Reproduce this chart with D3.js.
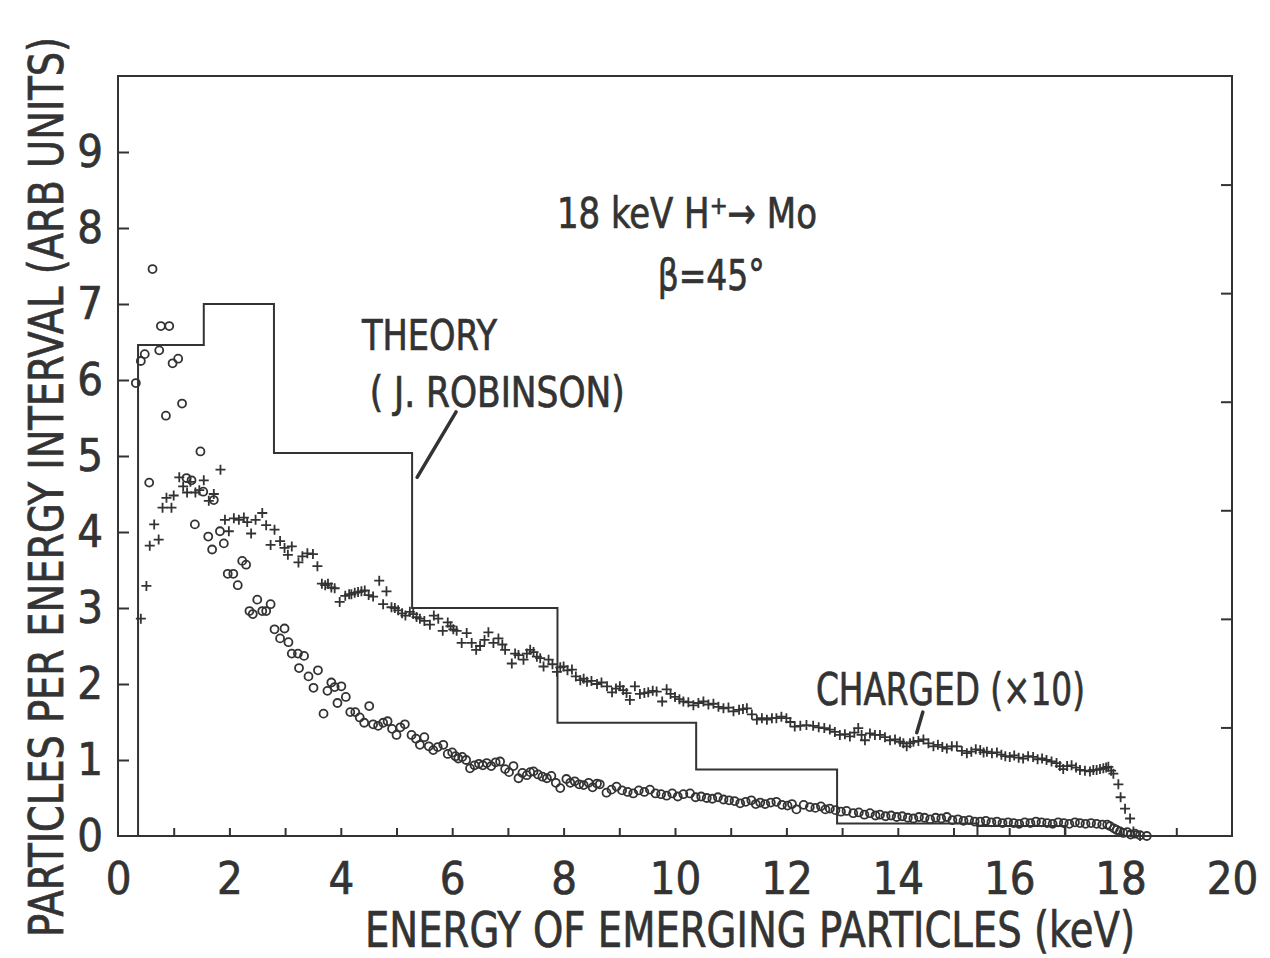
<!DOCTYPE html>
<html>
<head>
<meta charset="utf-8">
<script src="https://cdn.jsdelivr.net/npm/d3@7"></script>
<style>
  body { margin: 0; background: #fff; }
  svg { display: block; }
  text { fill: #333; stroke: #333; stroke-width: 0.7px; }
</style>
</head>
<body>
<script>
// energy spectrum of particles emerging from Mo, 18 keV H+ , beta = 45 deg
const width = 1270,
  height = 958;

// theory histogram (J. Robinson): bin edges in keV and heights
const theoryEdges = [0.36, 1.54, 2.8, 5.28, 7.89, 10.38, 12.91, 15.43, 17.0];
const theoryValues = [6.46, 7.0, 5.04, 3.0, 1.49, 0.875, 0.165, 0.13];

// open circles : [energy keV, particles per interval]
const neutral = [
  [0.32, 5.96], [0.41, 6.25], [0.48, 6.34], [0.56, 4.65], [0.62, 7.46], [0.74, 6.39],
  [0.77, 6.71], [0.86, 5.53], [0.92, 6.71], [0.98, 6.22], [1.08, 6.28], [1.15, 5.69],
  [1.23, 4.71], [1.32, 4.68], [1.38, 4.10], [1.48, 5.06], [1.53, 4.53], [1.62, 3.94],
  [1.69, 3.77], [1.72, 4.42], [1.83, 4.01], [1.90, 3.85], [1.97, 3.45], [2.07, 3.45],
  [2.15, 3.30], [2.23, 3.62], [2.30, 3.57], [2.36, 2.96], [2.42, 2.92], [2.50, 3.11],
  [2.59, 2.96], [2.66, 2.96], [2.74, 3.05], [2.81, 2.72], [2.91, 2.60], [2.99, 2.73],
  [3.06, 2.55], [3.12, 2.40], [3.23, 2.40], [3.25, 2.21], [3.34, 2.37], [3.42, 2.10],
  [3.51, 1.95], [3.59, 2.18], [3.69, 1.61], [3.76, 1.91], [3.83, 2.02], [3.89, 1.96],
  [3.94, 1.75], [4.01, 1.97], [4.09, 1.83], [4.17, 1.63], [4.26, 1.63], [4.34, 1.56],
  [4.42, 1.49], [4.51, 1.71], [4.58, 1.47], [4.67, 1.45], [4.76, 1.49], [4.84, 1.51],
  [4.92, 1.41], [5.00, 1.33], [5.07, 1.43], [5.15, 1.47], [5.27, 1.33], [5.35, 1.28],
  [5.42, 1.20], [5.50, 1.30], [5.58, 1.18], [5.66, 1.13], [5.74, 1.17], [5.84, 1.20],
  [5.92, 1.08], [6.00, 1.10], [6.06, 1.05], [6.11, 1.02], [6.18, 1.04], [6.25, 1.00],
  [6.32, 0.89], [6.40, 0.93], [6.48, 0.95], [6.55, 0.93], [6.62, 0.96], [6.70, 0.92],
  [6.78, 0.97], [6.86, 0.98], [6.95, 0.88], [7.02, 0.84], [7.10, 0.92], [7.19, 0.76],
  [7.26, 0.83], [7.34, 0.80], [7.40, 0.84], [7.46, 0.85], [7.54, 0.81], [7.62, 0.78],
  [7.70, 0.76], [7.78, 0.79], [7.86, 0.70], [7.94, 0.63], [8.05, 0.75], [8.12, 0.70],
  [8.20, 0.72], [8.28, 0.68], [8.36, 0.67], [8.45, 0.70], [8.52, 0.64], [8.60, 0.69],
  [8.65, 0.68], [8.77, 0.57], [8.86, 0.61], [8.95, 0.65], [9.05, 0.60], [9.15, 0.58],
  [9.25, 0.56], [9.35, 0.60], [9.45, 0.58], [9.55, 0.61], [9.65, 0.56], [9.75, 0.55],
  [9.85, 0.53], [9.95, 0.56], [10.05, 0.52], [10.15, 0.55], [10.27, 0.56], [10.37, 0.51],
  [10.47, 0.52], [10.57, 0.50], [10.67, 0.49], [10.77, 0.51], [10.87, 0.48], [10.97, 0.47],
  [11.07, 0.46], [11.17, 0.43], [11.27, 0.45], [11.37, 0.47], [11.45, 0.42], [11.53, 0.44],
  [11.62, 0.42], [11.72, 0.44], [11.82, 0.45], [11.92, 0.41], [12.02, 0.40], [12.10, 0.42],
  [12.18, 0.35], [12.31, 0.41], [12.42, 0.38], [12.52, 0.37], [12.62, 0.39], [12.70, 0.35],
  [12.78, 0.36], [12.88, 0.34], [12.98, 0.32], [13.08, 0.33], [13.20, 0.30], [13.30, 0.31],
  [13.40, 0.28], [13.50, 0.30], [13.60, 0.27], [13.68, 0.28], [13.78, 0.26], [13.88, 0.27],
  [13.98, 0.25], [14.08, 0.26], [14.18, 0.24], [14.28, 0.23], [14.38, 0.25], [14.48, 0.24],
  [14.58, 0.22], [14.68, 0.24], [14.78, 0.23], [14.88, 0.25], [14.98, 0.21], [15.08, 0.22],
  [15.18, 0.20], [15.28, 0.21], [15.38, 0.19], [15.48, 0.19], [15.58, 0.20], [15.68, 0.18],
  [15.78, 0.19], [15.88, 0.17], [15.98, 0.18], [16.08, 0.17], [16.18, 0.16], [16.28, 0.18],
  [16.38, 0.17], [16.48, 0.19], [16.58, 0.18], [16.68, 0.17], [16.78, 0.16], [16.88, 0.18],
  [16.98, 0.17], [17.08, 0.16], [17.18, 0.18], [17.27, 0.17], [17.37, 0.16], [17.47, 0.17],
  [17.57, 0.16], [17.67, 0.15], [17.76, 0.15], [17.81, 0.13], [17.88, 0.10], [17.93, 0.08],
  [17.99, 0.06], [18.05, 0.04], [18.12, 0.05], [18.18, 0.02], [18.26, 0.03], [18.35, 0.01],
  [18.47, 0.0]
];

// crosses : charged particles (x10)
const charged = [
  [0.41, 2.86], [0.51, 3.29], [0.57, 3.82], [0.65, 4.10], [0.73, 3.90], [0.80, 4.32],
  [0.87, 4.45], [0.96, 4.32], [1.00, 4.48], [1.10, 4.72], [1.17, 4.60], [1.24, 4.52],
  [1.30, 4.66], [1.39, 4.52], [1.46, 4.55], [1.54, 4.68], [1.63, 4.41], [1.72, 4.50],
  [1.84, 4.82], [1.92, 4.16], [1.99, 4.01], [2.08, 4.18], [2.17, 4.16], [2.26, 4.19],
  [2.32, 4.13], [2.39, 3.98], [2.47, 4.16], [2.59, 4.25], [2.66, 4.09], [2.74, 3.83],
  [2.81, 4.03], [2.91, 3.88], [2.99, 3.79], [3.05, 3.70], [3.12, 3.81], [3.24, 3.60],
  [3.31, 3.68], [3.40, 3.72], [3.50, 3.71], [3.58, 3.55], [3.66, 3.32], [3.72, 3.30],
  [3.77, 3.32], [3.83, 3.27], [3.89, 3.26], [3.98, 3.08], [4.08, 3.16], [4.15, 3.18],
  [4.19, 3.18], [4.25, 3.20], [4.31, 3.21], [4.37, 3.22], [4.43, 3.23], [4.50, 3.17],
  [4.58, 3.15], [4.69, 3.36], [4.76, 3.05], [4.82, 3.22], [4.91, 3.01], [4.97, 3.00],
  [5.03, 2.97], [5.10, 2.93], [5.16, 2.90], [5.24, 2.95], [5.30, 2.92], [5.36, 2.88],
  [5.42, 2.86], [5.50, 2.83], [5.60, 2.78], [5.67, 2.90], [5.75, 2.86], [5.83, 2.70],
  [5.92, 2.81], [5.97, 2.76], [6.02, 2.72], [6.08, 2.70], [6.17, 2.54], [6.26, 2.67],
  [6.35, 2.54], [6.43, 2.45], [6.50, 2.50], [6.58, 2.58], [6.65, 2.68], [6.74, 2.54],
  [6.83, 2.60], [6.90, 2.52], [6.95, 2.45], [7.07, 2.27], [7.13, 2.40], [7.19, 2.38],
  [7.28, 2.32], [7.34, 2.40], [7.40, 2.45], [7.46, 2.42], [7.52, 2.36], [7.58, 2.34],
  [7.64, 2.23], [7.73, 2.32], [7.80, 2.26], [7.88, 2.16], [7.94, 2.22], [8.00, 2.23],
  [8.07, 2.18], [8.15, 2.19], [8.22, 2.10], [8.30, 2.05], [8.36, 2.07], [8.42, 2.03],
  [8.50, 2.04], [8.60, 2.00], [8.68, 2.02], [8.78, 1.97], [8.87, 1.89], [8.94, 1.94],
  [9.01, 1.97], [9.07, 1.92], [9.13, 1.88], [9.19, 1.79], [9.28, 1.97], [9.37, 1.87],
  [9.45, 1.88], [9.52, 1.89], [9.60, 1.91], [9.67, 1.90], [9.77, 1.77], [9.85, 1.93],
  [9.92, 1.87], [10.00, 1.83], [10.08, 1.80], [10.15, 1.77], [10.24, 1.76], [10.33, 1.72],
  [10.42, 1.75], [10.51, 1.77], [10.60, 1.73], [10.69, 1.74], [10.78, 1.70], [10.87, 1.68],
  [10.96, 1.69], [11.05, 1.64], [11.15, 1.66], [11.22, 1.67], [11.29, 1.68], [11.38, 1.60],
  [11.47, 1.53], [11.56, 1.55], [11.65, 1.53], [11.74, 1.55], [11.82, 1.55], [11.91, 1.57],
  [12.00, 1.55], [12.07, 1.50], [12.15, 1.44], [12.25, 1.45], [12.36, 1.46], [12.48, 1.45],
  [12.58, 1.43], [12.68, 1.42], [12.78, 1.40], [12.87, 1.37], [12.96, 1.33], [13.05, 1.34],
  [13.14, 1.31], [13.22, 1.36], [13.29, 1.42], [13.35, 1.33], [13.41, 1.26], [13.50, 1.35],
  [13.59, 1.33], [13.68, 1.33], [13.77, 1.30], [13.86, 1.26], [13.95, 1.27], [14.04, 1.24],
  [14.10, 1.22], [14.16, 1.18], [14.22, 1.22], [14.28, 1.24], [14.37, 1.25], [14.46, 1.27],
  [14.55, 1.22], [14.64, 1.18], [14.72, 1.20], [14.80, 1.17], [14.88, 1.15], [14.97, 1.18],
  [15.06, 1.18], [15.15, 1.12], [15.24, 1.09], [15.32, 1.11], [15.40, 1.14], [15.48, 1.13],
  [15.54, 1.10], [15.60, 1.11], [15.69, 1.09], [15.78, 1.10], [15.86, 1.07], [15.93, 1.05],
  [16.01, 1.04], [16.09, 1.06], [16.17, 1.03], [16.25, 1.02], [16.34, 1.05], [16.43, 1.04],
  [16.51, 1.01], [16.59, 1.02], [16.67, 1.00], [16.76, 0.98], [16.85, 0.96], [16.91, 0.92],
  [16.97, 0.88], [17.04, 0.92], [17.12, 0.93], [17.20, 0.90], [17.27, 0.87], [17.36, 0.86],
  [17.45, 0.85], [17.51, 0.87], [17.57, 0.87], [17.63, 0.88], [17.69, 0.89], [17.74, 0.90],
  [17.78, 0.91], [17.83, 0.86], [17.87, 0.82], [17.96, 0.68], [18.00, 0.51], [18.08, 0.36],
  [18.17, 0.23], [18.23, 0.06], [18.35, 0.0]
];

// tick values
const xLabelTicks = [0, 2, 4, 6, 8, 10, 12, 14, 16, 18, 20];
const xMinorTicks = d3.range(1, 20);
const yLabelTicks = [0, 1, 2, 3, 4, 5, 6, 7, 8, 9];
const yMinorTicks = [1, 2, 3, 4, 5, 6, 7, 8, 9];
const rightTicks = [1, 2, 3, 4, 5, 6];

const font = '"Liberation Sans Narrow", "DejaVu Sans Condensed", "Arial Narrow", sans-serif';
const ink = "#333";

const x = d3.scaleLinear().domain([0, 20]).range([118, 1232]);
const y = d3.scaleLinear().domain([0, 10]).range([836, 76]);
// right hand frame carries an unlabelled scale of its own
const y2 = d3.scaleLinear().domain([0, 7]).range([836, 76]);

const svg = d3
  .select("body")
  .append("svg")
  .attr("width", width)
  .attr("height", height)
  .style("font-family", font);

svg.append("rect").attr("width", width).attr("height", height).attr("fill", "#fff");

// frame
svg
  .append("rect")
  .attr("x", x(0))
  .attr("y", y(10))
  .attr("width", x(20) - x(0))
  .attr("height", y(0) - y(10))
  .attr("fill", "none")
  .attr("stroke", ink)
  .attr("stroke-width", 2);

// inward tick marks
function styleTicks(g) {
  g.select(".domain").remove();
  g.selectAll(".tick line").attr("stroke", ink).attr("stroke-width", 2);
}
svg
  .append("g")
  .attr("transform", `translate(0,${y(0)})`)
  .call(d3.axisBottom(x).tickValues(xMinorTicks).tickSize(-8).tickFormat(""))
  .call(styleTicks);
svg
  .append("g")
  .attr("transform", `translate(${x(0)},0)`)
  .call(d3.axisLeft(y).tickValues(yMinorTicks).tickSize(-11).tickFormat(""))
  .call(styleTicks);
svg
  .append("g")
  .attr("transform", `translate(${x(20)},0)`)
  .call(d3.axisRight(y2).tickValues(rightTicks).tickSize(-11).tickFormat(""))
  .call(styleTicks);

// tick labels
function styleLabels(g) {
  g.select(".domain").remove();
  g.selectAll(".tick line").remove();
  g.selectAll(".tick text").attr("fill", ink).style("font-size", "45px").style("font-family", font);
}
svg
  .append("g")
  .attr("transform", `translate(0,${y(0)})`)
  .call(d3.axisBottom(x).tickValues(xLabelTicks).tickSize(0).tickPadding(26).tickFormat(d3.format("d")))
  .call(styleLabels);
svg
  .append("g")
  .attr("transform", `translate(${x(0)},0)`)
  .call(d3.axisLeft(y).tickValues(yLabelTicks).tickSize(0).tickPadding(15).tickFormat(d3.format("d")))
  .call(styleLabels);

// axis titles
svg
  .append("text")
  .attr("x", 750)
  .attr("y", 947)
  .attr("text-anchor", "middle")
  .attr("textLength", 770)
  .attr("lengthAdjust", "spacingAndGlyphs")
  .style("font-size", "50px")
  .text("ENERGY OF EMERGING PARTICLES (keV)");

svg
  .append("text")
  .attr("transform", "translate(63,487) rotate(-90)")
  .attr("text-anchor", "middle")
  .attr("textLength", 900)
  .attr("lengthAdjust", "spacingAndGlyphs")
  .style("font-size", "48px")
  .text("PARTICLES PER ENERGY INTERVAL (ARB UNITS)");

// theory histogram as a step outline
const steps = [];
theoryValues.forEach((v, i) => {
  steps.push([theoryEdges[i], v]);
  steps.push([theoryEdges[i + 1], v]);
});
steps.unshift([theoryEdges[0], 0]);
steps.push([theoryEdges[theoryEdges.length - 1], 0]);
const line = d3
  .line()
  .x((d) => x(d[0]))
  .y((d) => y(d[1]));
svg
  .append("path")
  .datum(steps)
  .attr("d", line)
  .attr("fill", "none")
  .attr("stroke", ink)
  .attr("stroke-width", 2);
// the 12.9-15.4 bin is closed down to the axis
svg
  .append("path")
  .datum([
    [theoryEdges[7], theoryValues[6]],
    [theoryEdges[7], 0]
  ])
  .attr("d", line)
  .attr("fill", "none")
  .attr("stroke", ink)
  .attr("stroke-width", 2);

// open circles
svg
  .append("g")
  .selectAll("circle")
  .data(neutral)
  .join("circle")
  .attr("cx", (d) => x(d[0]))
  .attr("cy", (d) => y(d[1]))
  .attr("r", 4)
  .attr("fill", "none")
  .attr("stroke", ink)
  .attr("stroke-width", 1.8);

// crosses
const arm = 5;
svg
  .append("g")
  .selectAll("path")
  .data(charged)
  .join("path")
  .attr("d", (d) => {
    const cx = x(d[0]),
      cy = y(d[1]);
    return `M${cx - arm},${cy}H${cx + arm}M${cx},${cy - arm}V${cy + arm}`;
  })
  .attr("stroke", ink)
  .attr("stroke-width", 1.8);

// annotations (positions in data units)
svg
  .append("text")
  .attr("x", x(7.88))
  .attr("y", y(8.0))
  .attr("textLength", 260)
  .attr("lengthAdjust", "spacingAndGlyphs")
  .style("font-size", "43px")
  .text("18 keV H\u207a\u2192 Mo");

svg
  .append("text")
  .attr("x", x(9.69))
  .attr("y", y(7.18))
  .attr("textLength", 107)
  .attr("lengthAdjust", "spacingAndGlyphs")
  .style("font-size", "43px")
  .text("\u03b2=45\u00b0");

svg
  .append("text")
  .attr("x", x(4.38))
  .attr("y", y(6.39))
  .attr("textLength", 135)
  .attr("lengthAdjust", "spacingAndGlyphs")
  .style("font-size", "42px")
  .text("THEORY");

svg
  .append("text")
  .attr("x", x(4.52))
  .attr("y", y(5.64))
  .attr("textLength", 255)
  .attr("lengthAdjust", "spacingAndGlyphs")
  .style("font-size", "42px")
  .text("( J. ROBINSON)");

svg
  .append("text")
  .attr("x", x(12.53))
  .attr("y", y(1.72))
  .attr("textLength", 269)
  .attr("lengthAdjust", "spacingAndGlyphs")
  .style("font-size", "44px")
  .text("CHARGED (\u00d710)");

const leaders = [
  [[6.07, 5.58], [5.37, 4.72]],
  [[14.45, 1.63], [14.34, 1.36]]
];
svg
  .append("g")
  .selectAll("path")
  .data(leaders)
  .join("path")
  .attr("d", line)
  .attr("stroke", ink)
  .attr("stroke-width", 3.5)
  .attr("stroke-linecap", "round");
</script>
</body>
</html>
